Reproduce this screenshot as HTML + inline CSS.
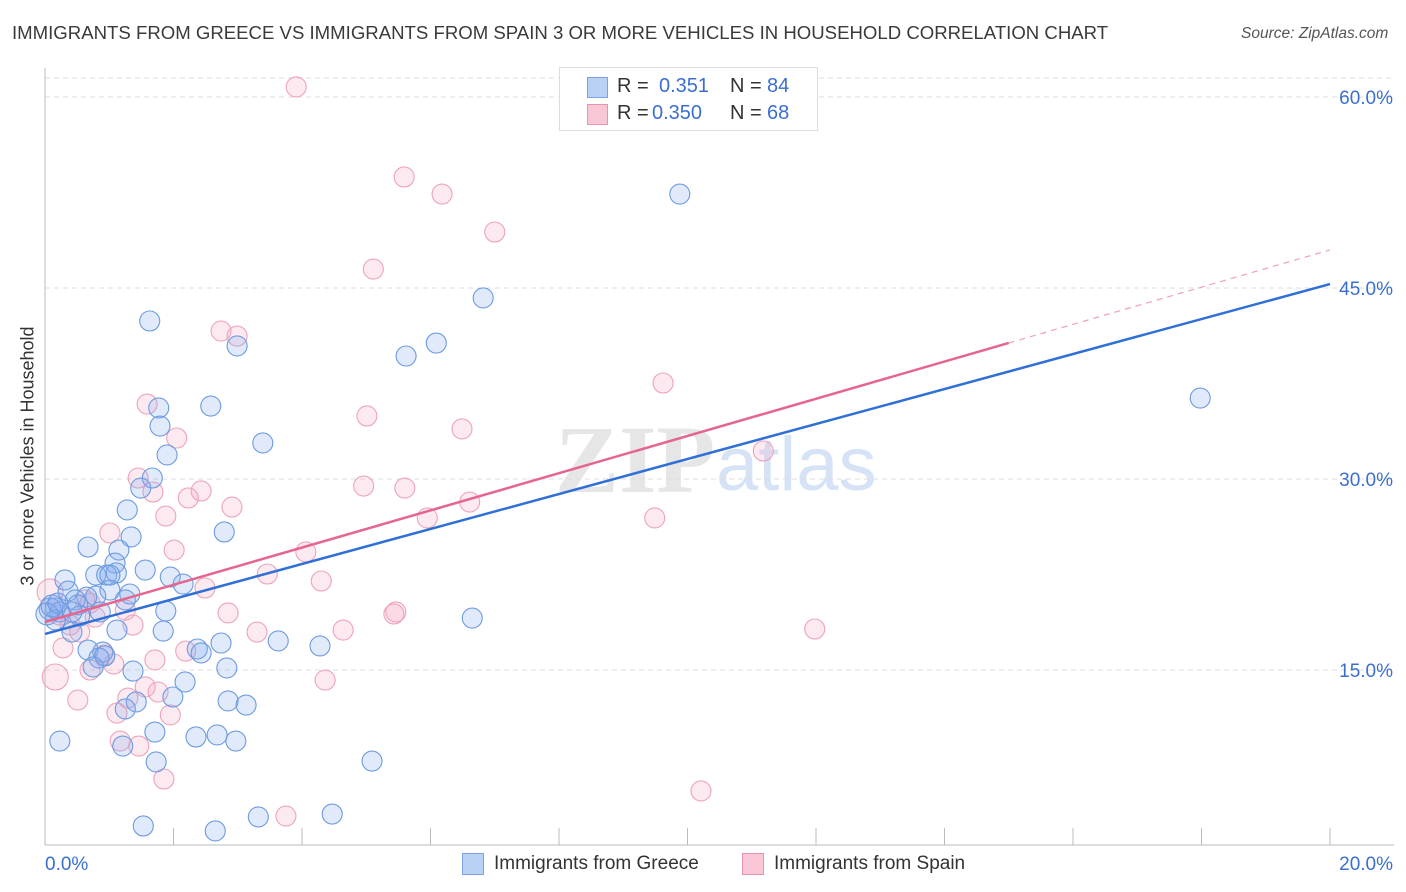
<!DOCTYPE html>
<html><head><meta charset="utf-8"><style>
body{margin:0;background:#fff;font-family:"Liberation Sans",sans-serif;}
#wrap{position:relative;width:1406px;height:892px;overflow:hidden;}
.t{position:absolute;white-space:nowrap;}
</style></head><body>
<div id="wrap">
<div class="t" style="left:12px;top:22px;font-size:18.6px;color:#3a3a3a;">IMMIGRANTS FROM GREECE VS IMMIGRANTS FROM SPAIN 3 OR MORE VEHICLES IN HOUSEHOLD CORRELATION CHART</div>
<div class="t" style="left:1241px;top:25px;font-size:15.5px;color:#555;font-style:italic;">Source: ZipAtlas.com</div>
<div class="t" style="left:28px;top:456px;font-size:18px;color:#333;transform:translate(-50%,-50%) rotate(-90deg);">3 or more Vehicles in Household</div>
<svg id="chart" width="1406" height="892" style="position:absolute;left:0;top:0"></svg>
<div style="position:absolute;left:559px;top:67px;width:257px;height:62px;border:1px solid #ddd;background:#fff;font-size:20px;">
 <div style="position:absolute;left:27px;top:9px;width:19px;height:19px;background:#b9d1f4;border:1px solid #7aa3e0;"></div>
 <div class="t" style="left:57px;top:7px;color:#333">R = </div><div class="t" style="left:99px;top:7px;color:#3a6fd0">0.351</div>
 <div class="t" style="left:170px;top:7px;color:#333">N = </div><div class="t" style="left:207px;top:7px;color:#3a6fd0">84</div>
 <div style="position:absolute;left:27px;top:36px;width:19px;height:19px;background:#f9c6d6;border:1px solid #ea93af;"></div>
 <div class="t" style="left:57px;top:34px;color:#333">R = </div><div class="t" style="left:92px;top:34px;color:#3a6fd0">0.350</div>
 <div class="t" style="left:170px;top:34px;color:#333">N = </div><div class="t" style="left:207px;top:34px;color:#3a6fd0">68</div>
</div>
<div style="position:absolute;left:462px;top:853px;">
 <div style="position:absolute;left:0;top:0;width:20px;height:20px;background:#b9d1f4;border:1px solid #7aa3e0;"></div>
 <div class="t" style="left:32px;top:0px;font-size:19px;color:#333">Immigrants from Greece</div></div>
<div style="position:absolute;left:742px;top:853px;">
 <div style="position:absolute;left:0;top:0;width:20px;height:20px;background:#f9c6d6;border:1px solid #ea93af;"></div>
 <div class="t" style="left:32px;top:0px;font-size:19px;color:#333">Immigrants from Spain</div></div>
</div>
<script>
const xTicks=[0,20];
const yTicks=[15,30,45,60];
const greeceX=[9.88,6.82,1.63,2.99,5.62,6.09,17.98,1.77,2.58,1.79,3.39,1.90,1.67,1.49,1.28,2.79,1.34,0.67,1.15,1.09,1.56,0.79,0.96,1.11,1.95,0.31,2.15,1.32,1.01,0.79,0.36,0.65,0.47,0.16,0.23,0.54,1.88,0.08,1.25,6.65,1.12,1.84,0.42,3.63,4.28,2.74,0.67,2.37,2.43,0.90,0.93,0.84,1.37,2.83,0.75,2.18,1.99,2.85,3.13,1.42,1.25,1.71,2.35,2.68,2.97,0.23,1.21,1.73,5.09,1.53,2.65,3.32,4.47,0.16,0.03,0.11,0.42,0.51,0.20,0.86,1.01];
const greeceY=[52.38,44.22,42.41,40.45,39.66,40.68,36.36,35.58,35.73,34.16,32.83,31.89,30.08,29.29,27.57,25.84,25.45,24.66,24.42,23.40,22.85,22.46,22.46,22.62,22.30,22.07,21.75,20.97,21.28,20.81,21.20,20.73,20.50,19.87,19.56,19.24,19.63,19.79,20.50,19.08,18.14,18.06,17.98,17.28,16.89,17.12,16.57,16.65,16.34,16.41,16.10,15.94,14.92,15.16,15.24,14.06,12.88,12.57,12.25,12.49,11.94,10.13,9.74,9.90,9.42,9.42,9.03,7.78,7.85,2.75,2.36,3.46,3.69,18.93,19.40,20.03,19.56,20.11,20.26,19.56,22.46];
const spainX=[3.91,5.59,6.18,7.00,5.11,2.74,2.99,9.62,1.59,5.01,6.49,2.05,11.18,1.45,4.96,5.60,1.68,2.43,2.23,2.91,1.88,6.61,5.95,9.49,1.01,2.01,4.06,3.46,4.30,2.49,0.62,1.25,0.70,0.78,2.85,5.46,5.43,1.37,0.54,3.30,4.64,11.98,0.28,2.19,0.93,1.07,0.70,1.71,4.36,1.56,1.76,1.29,0.51,1.12,1.95,1.17,1.46,1.85,3.75,10.21,0.16,0.08,0.39,0.23];
const spainY=[60.79,53.72,52.38,49.40,46.49,41.62,41.23,37.54,35.89,34.95,33.93,33.22,32.20,30.08,29.45,29.29,28.98,29.06,28.51,27.80,27.09,28.19,26.94,26.94,25.76,24.42,24.27,22.54,21.99,21.44,20.50,19.71,20.26,19.16,19.48,19.56,19.40,18.53,17.98,17.98,18.14,18.22,16.73,16.49,16.18,15.47,15.00,15.79,14.21,13.67,13.27,12.80,12.64,11.62,11.47,9.42,9.03,6.44,3.53,5.50,14.45,21.13,18.53,19.32];
const greeceTrend=[17.83,45.31];
const spainTrend=[18.77,47.99];
const spainSolidEnd=15;

const X=v=>45+v*64.25, Y=v=>861-v*12.733;
const svg=document.getElementById('chart');const NS='http://www.w3.org/2000/svg';
function mk(t,a){const e=document.createElementNS(NS,t);for(const k in a)e.setAttribute(k,a[k]);svg.appendChild(e);return e;}
let w=mk('text',{x:555,y:492,'font-size':96,'font-family':'Liberation Serif,serif','font-weight':'bold',fill:'#e6e6e6'});w.textContent='ZIP';


w=mk('text',{x:716,y:490,'font-size':76,'font-family':'Liberation Sans,sans-serif',fill:'#d6e3f6'});w.textContent='atlas';


let g=mk('line',{x1:45,x2:1394,y1:78,y2:78,stroke:'#ddd','stroke-dasharray':'5,4'});


yTicks.forEach(v=>{const l=mk('line',{x1:45,x2:1394,y1:Y(v),y2:Y(v),stroke:'#ddd','stroke-dasharray':'5,4'});


const t=mk('text',{x:1393,y:Y(v)+7,'text-anchor':'end','font-size':19,fill:'#3a6fd0','font-family':'Liberation Sans,sans-serif'});t.textContent=v.toFixed(1)+'%';

});
let ax=mk('line',{x1:45,x2:45,y1:68,y2:845,stroke:'#bbb'});


ax=mk('line',{x1:45,x2:1394,y1:845,y2:845,stroke:'#bbb'});


for(let i=1;i<=10;i++){const tk=mk('line',{x1:X(i*2),x2:X(i*2),y1:828,y2:845,stroke:'#bbb'});

}
xTicks.forEach((v,i)=>{const t=mk('text',{x:i?1393:45,y:870,'text-anchor':i?'end':'start','font-size':19,fill:'#3a6fd0','font-family':'Liberation Sans,sans-serif'});t.textContent=v.toFixed(1)+'%';

});
function pts(xs,ys,fill,stroke,name){xs.forEach((x,i)=>{const big=(x<0.2&&name==='spain')?13:(x<0.12?11:10);
const c=mk('circle',{cx:X(x),cy:Y(ys[i]),r:big,fill:fill,stroke:stroke,'stroke-width':1.1});

});}
pts(spainX,spainY,'rgba(245,170,196,0.25)','#eda3bb','spain');
pts(greeceX,greeceY,'rgba(130,172,238,0.25)','#6c9be0','greece');
let tl=mk('line',{x1:X(0),y1:Y(greeceTrend[0]),x2:X(20),y2:Y(greeceTrend[1]),stroke:'#2f6fd6','stroke-width':2.5});


const sy=v=>spainTrend[0]+(spainTrend[1]-spainTrend[0])*v/20;
tl=mk('line',{x1:X(0),y1:Y(spainTrend[0]),x2:X(spainSolidEnd),y2:Y(sy(spainSolidEnd)),stroke:'#e5658f','stroke-width':2.5});


tl=mk('line',{x1:X(spainSolidEnd),y1:Y(sy(spainSolidEnd)),x2:X(20),y2:Y(spainTrend[1]),stroke:'#eda0b8','stroke-width':1.2,'stroke-dasharray':'6,5'});


</script>
</body></html>
